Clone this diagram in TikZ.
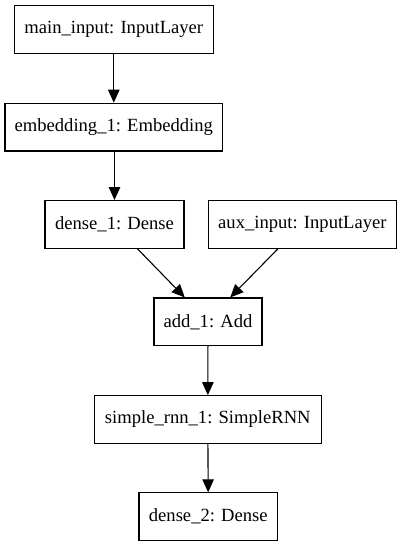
\documentclass[tikz,border=0pt]{standalone}
\usepackage{fontspec}
\setmainfont{Liberation Serif}
\usetikzlibrary{arrows.meta,calc}
\begin{document}
\begin{tikzpicture}[x=1pt,y=-1pt,
  layer/.style={draw=black, line width=1.1pt, rectangle, minimum height=47.7pt,
    inner sep=0pt, font=\fontsize{18.6}{22}\selectfont},
  flow/.style={line width=1.1pt, -{Triangle[length=13pt,width=11.5pt]}}]
\useasboundingbox (0,0) rectangle (402,547);
\node[layer, minimum width=198.5pt] (main) at (113.8,29.5) {main\_input: InputLayer};
\node[layer, minimum width=217.7pt] (emb)  at (113.8,127.1) {embedding\_1: Embedding};
\node[layer, minimum width=139pt]   (d1)   at (114.5,224.4) {dense\_1: Dense};
\node[layer, minimum width=188.7pt] (aux)  at (302.4,224.4) {aux\_input: InputLayer};
\node[layer, minimum width=108pt]   (add)  at (208,321.8) {add\_1: Add};
\node[layer, minimum width=227pt]   (rnn)  at (207.8,419.5) {simple\_rnn\_1: SimpleRNN};
\node[layer, minimum width=138.7pt] (d2)   at (208.3,516.7) {dense\_2: Dense};
\draw[flow] (main) -- (emb);
\draw[flow] (emb.south -| d1.south) -- (d1);
\draw[flow] ($(d1.south west)!0.664!(d1.south east)$) -- ($(add.north west)!0.287!(add.north east)$);
\draw[flow] ($(aux.south west)!0.371!(aux.south east)$) -- ($(add.north west)!0.704!(add.north east)$);
\draw[flow] (add) -- (rnn);
\draw[flow] (rnn) -- (d2);
\end{tikzpicture}
\end{document}
